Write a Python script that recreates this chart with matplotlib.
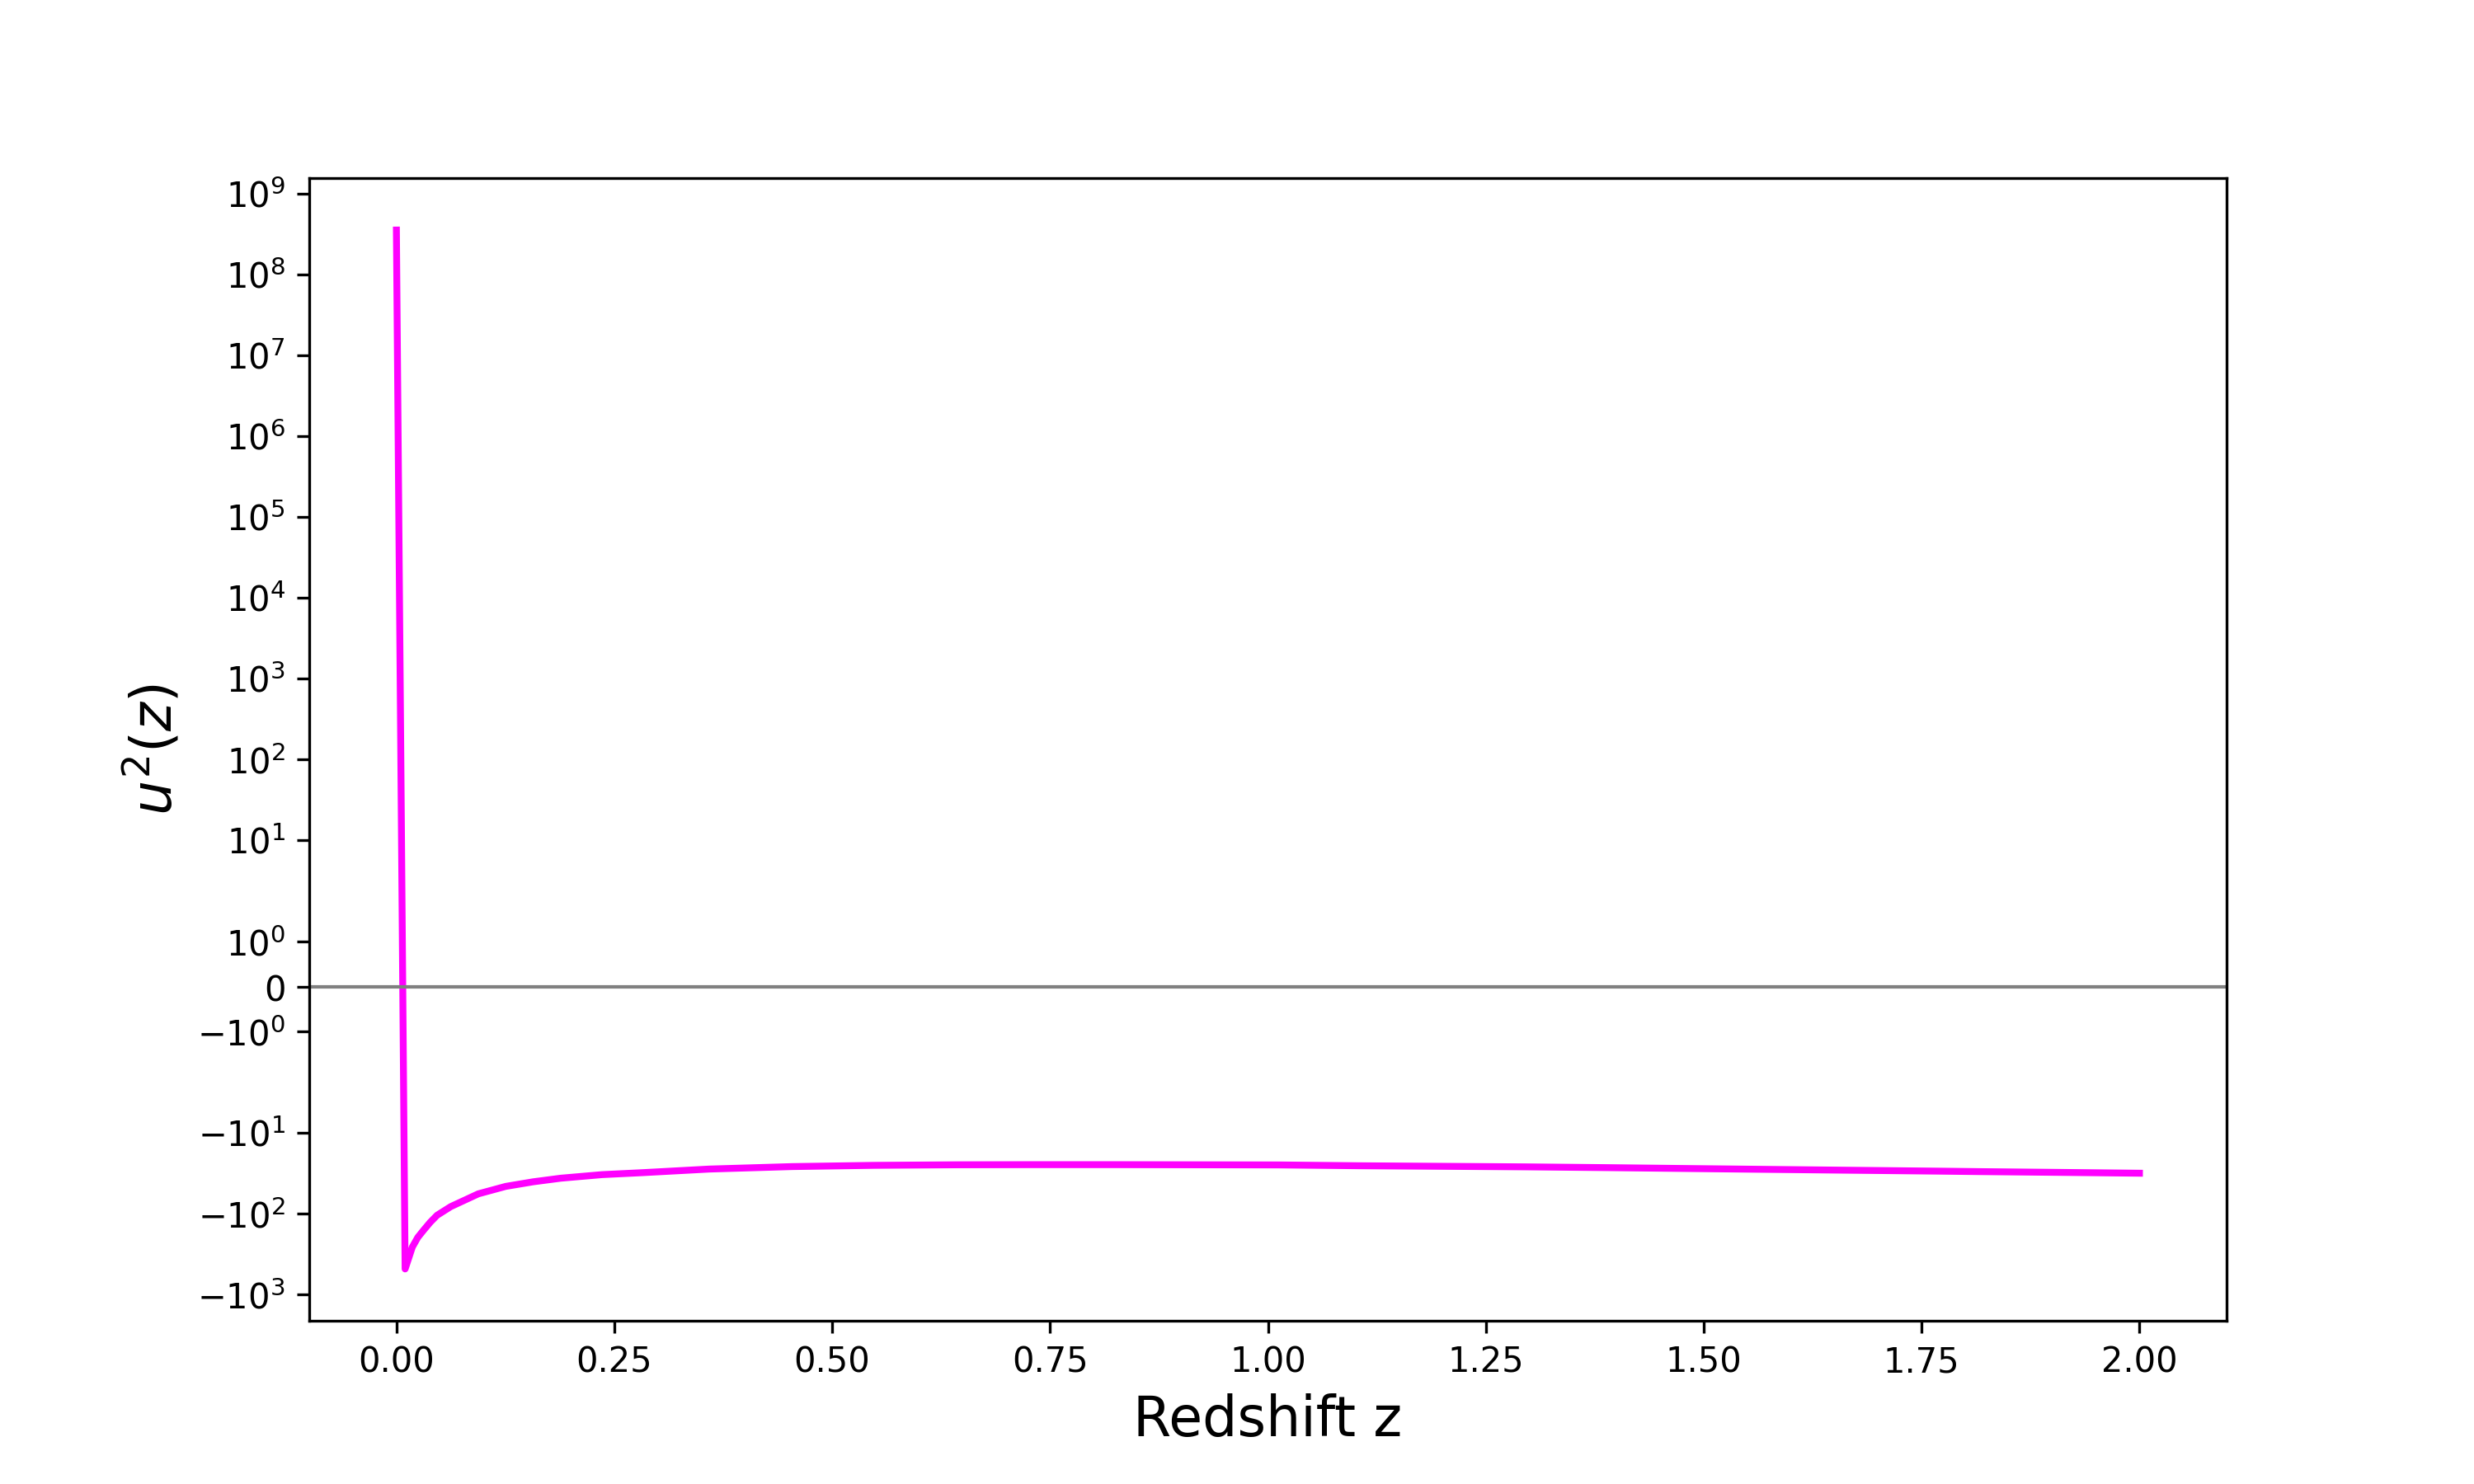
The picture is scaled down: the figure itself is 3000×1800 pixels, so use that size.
import matplotlib
matplotlib.use("Agg")
import matplotlib.pyplot as plt

# Redshift samples and u^2(z) values
z = [0.0, 0.0100, 0.0183, 0.0246, 0.031, 0.0388, 0.0467, 0.0624, 0.094, 0.1255,
     0.157, 0.1886, 0.236, 0.283, 0.359, 0.454, 0.548, 0.643, 0.728, 0.823,
     0.917, 1.012, 1.106, 1.201, 1.296, 1.39, 1.485, 1.58, 1.674, 1.769,
     1.816, 1.911, 2.0]
u2 = [3.55e8, -480.0, -257.0, -195.0, -160.0, -127.0, -104.0, -81.3, -56.5, -45.7,
      -40.1, -36.2, -32.7, -30.9, -27.9, -26.0, -25.1, -24.7, -24.6, -24.6,
      -24.7, -24.8, -25.4, -25.8, -26.2, -26.8, -27.5, -28.2, -28.9, -29.6,
      -30.0, -30.7, -31.4]

fig, ax = plt.subplots(figsize=(10, 6), dpi=300)
ax.set_yscale("symlog", linthresh=2)
ax.plot(z, u2, color="magenta", lw=2)
ax.axhline(0, color="gray", lw=1)
ax.set_ylim(-2100, 1.56e9)
ax.set_xlim(-0.1, 2.1)
ax.set_xlabel("Redshift z", fontsize=16)
ax.set_ylabel("$u^2(z)$", fontsize=16)
fig.savefig("out.png", dpi=300)
